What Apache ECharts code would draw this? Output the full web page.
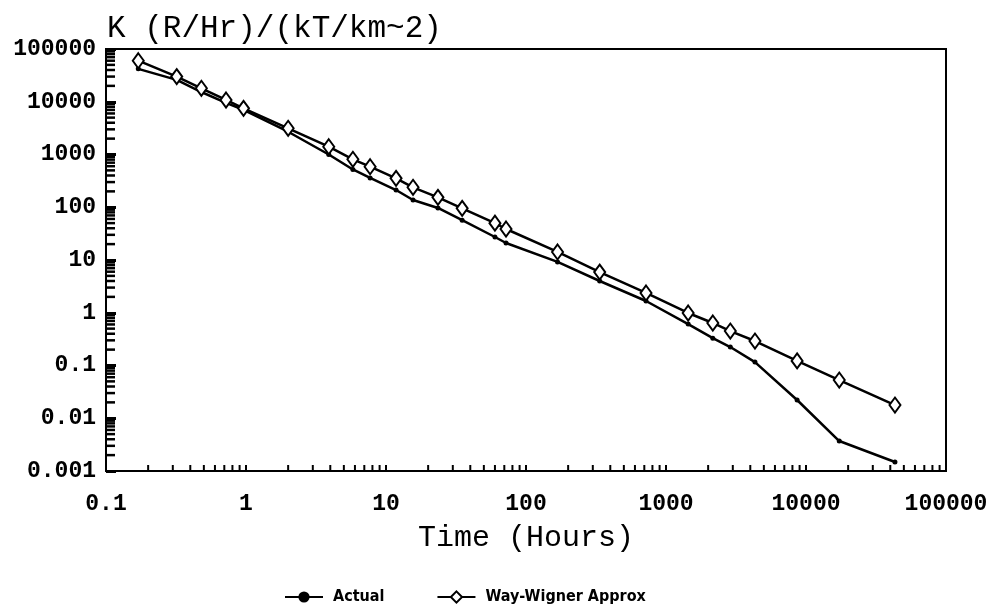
<!DOCTYPE html>
<html>
<head>
<meta charset="utf-8">
<script src="https://cdn.jsdelivr.net/npm/echarts@6/dist/echarts.min.js"></script>
<style>
html,body{margin:0;padding:0;background:#fff;}
#chart{width:996px;height:612px;}
</style>
</head>
<body>
<div id="chart"></div>
<script>
// ---- data ----
const timesHours = [0.17, 0.32, 0.48, 0.72, 0.96, 2, 3.9, 5.8, 7.7, 11.8, 15.6, 23.5, 35, 60, 72, 168, 336, 720, 1440, 2160, 2880, 4320, 8640, 17280, 43200];
const actualK = [42000, 26000, 15300, 9500, 7000, 2700, 1000, 520, 359, 212, 137, 97, 57, 27.3, 21, 9.2, 4.0, 1.67, 0.61, 0.33, 0.224, 0.116, 0.0222, 0.0037, 0.00148];
const wayWignerK = [60000, 30000, 18000, 10800, 7500, 3140, 1405, 811, 587, 353, 239, 154, 95.5, 50, 38.7, 14.2, 5.9, 2.37, 0.99, 0.64, 0.45, 0.291, 0.122, 0.053, 0.0178];
const xTickLabels = ['0.1', '1', '10', '100', '1000', '10000', '100000'];
const yTickLabels = ['0.001', '0.01', '0.1', '1', '10', '100', '1000', '10000', '100000'];
const seriesNames = ['Actual', 'Way-Wigner Approx'];
const titleText = 'K (R/Hr)/(kT/km~2)';
const xAxisName = 'Time (Hours)';

// axis decoration: minor tick values (2..9 x 10^k)
function minorTicks(minExp, maxExp) {
  const out = [];
  for (let e = minExp; e < maxExp; e++) {
    for (let m = 2; m <= 9; m++) out.push(m * Math.pow(10, e));
  }
  return out;
}
const xMinor = minorTicks(-1, 5);
const yMinor = minorTicks(-3, 5);
const X_MIN = 0.1, X_MAX = 100000, Y_MIN = 0.001, Y_MAX = 100000;

function labelFor(list, minExp) {
  return function (v) {
    const i = Math.round(Math.log10(v)) - minExp;
    return list[i] !== undefined ? list[i] : '';
  };
}

const chart = echarts.init(document.getElementById('chart'), null, {renderer: 'canvas'});
const monoBold = {fontFamily: '"Liberation Mono", "DejaVu Sans Mono", monospace', fontWeight: 'bold', fontSize: 23, color: '#000'};

chart.setOption({
  animation: false,
  backgroundColor: '#fff',
  title: {
    text: titleText,
    left: 102,
    top: 8,
    textStyle: {fontFamily: '"Liberation Mono", monospace', fontWeight: 'normal', fontSize: 31, color: '#000'}
  },
  grid: {left: 106, right: 50, top: 49, bottom: 141, show: true, borderColor: '#000', borderWidth: 2},
  legend: {
    data: seriesNames,
    left: 279,
    top: 584,
    itemWidth: 38,
    itemHeight: 14,
    itemGap: 52,
    textStyle: {fontFamily: '"Liberation Sans Narrow", "DejaVu Sans Condensed", sans-serif', fontWeight: 'bold', fontSize: 16, color: '#000', padding: [0, 0, 0, 5]}
  },
  xAxis: {
    type: 'log', logBase: 10, min: X_MIN, max: X_MAX, interval: 1, splitNumber: 6,
    name: xAxisName, nameLocation: 'middle', nameGap: 52,
    nameTextStyle: {fontFamily: '"Liberation Mono", monospace', fontSize: 30, color: '#000'},
    axisLine: {lineStyle: {color: '#000', width: 2}},
    axisTick: {show: true, inside: true, length: 6, lineStyle: {color: '#000', width: 2}},
    minorTick: {show: false},
    splitLine: {show: false},
    axisLabel: Object.assign({margin: 22, formatter: labelFor(xTickLabels, -1)}, monoBold)
  },
  yAxis: {
    type: 'log', logBase: 10, min: Y_MIN, max: Y_MAX, interval: 1, splitNumber: 8,
    axisLine: {lineStyle: {color: '#000', width: 2}},
    axisTick: {show: true, inside: true, length: 10, lineStyle: {color: '#000', width: 3}},
    minorTick: {show: false},
    splitLine: {show: false},
    axisLabel: Object.assign({margin: 10, formatter: labelFor(yTickLabels, -3)}, monoBold)
  },
  series: [
    {
      name: seriesNames[0], type: 'line',
      data: timesHours.map((t, i) => [t, actualK[i]]),
      symbol: 'circle', symbolSize: 5,
      lineStyle: {color: '#000', width: 2.5},
      itemStyle: {color: '#000'},
      z: 3
    },
    {
      name: seriesNames[1], type: 'line',
      data: timesHours.map((t, i) => [t, wayWignerK[i]]),
      symbol: 'diamond', symbolSize: [11, 15],
      lineStyle: {color: '#000', width: 2.5},
      itemStyle: {color: '#fff', borderColor: '#000', borderWidth: 2},
      z: 4
    },
    {
      type: 'custom', silent: true, z: 2,
      data: xMinor.map(v => [v, Y_MIN]),
      renderItem: function (params, api) {
        const p = api.coord([api.value(0), api.value(1)]);
        return {type: 'line', shape: {x1: p[0], y1: p[1], x2: p[0], y2: p[1] - 6}, style: {stroke: '#000', lineWidth: 2}};
      }
    },
    {
      type: 'custom', silent: true, z: 2,
      data: yMinor.map(v => [X_MIN, v]),
      renderItem: function (params, api) {
        const p = api.coord([api.value(0), api.value(1)]);
        return {type: 'line', shape: {x1: p[0], y1: p[1], x2: p[0] + 9, y2: p[1]}, style: {stroke: '#000', lineWidth: 2.5}};
      }
    }
  ]
});
</script>
</body>
</html>
